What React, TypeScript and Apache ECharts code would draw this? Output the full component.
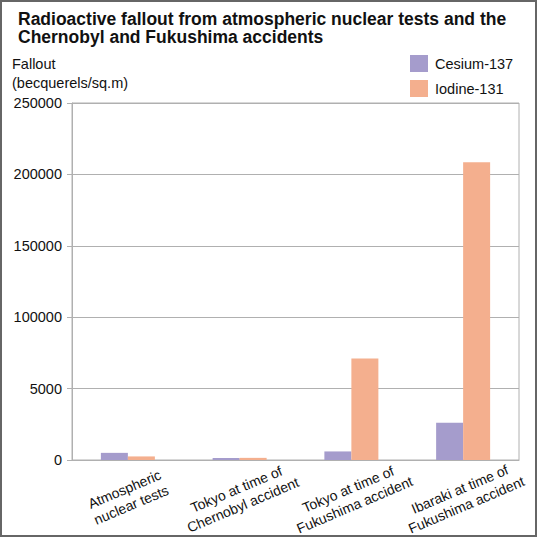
import React, { useEffect, useRef } from "react";
import * as echarts from "echarts";

const categories = [
  "Atmospheric\nnuclear tests",
  "Tokyo at time of\nChernobyl accident",
  "Tokyo at time of\nFukushima accident",
  "Ibaraki at time of\nFukushima accident",
];
const cesium137 = [5000, 1400, 6000, 26000];
const iodine131 = [2500, 1500, 71000, 208500];
const yTickLabels = ["0", "5000", "100000", "150000", "200000", "250000"];

const FONT = "'Liberation Sans', Arial, sans-serif";

export default function App() {
  const ref = useRef<HTMLDivElement>(null);
  useEffect(() => {
    if (!ref.current) return;
    const chart = echarts.init(ref.current, undefined, { renderer: "svg" });
    chart.setOption({
      animation: false,
      backgroundColor: "#ffffff",
      textStyle: { fontFamily: FONT },
      title: {
        text: "Radioactive fallout from atmospheric nuclear tests and the\nChernobyl and Fukushima accidents",
        left: 18,
        top: 10,
        padding: 0,
        textStyle: {
          fontFamily: FONT,
          fontSize: 17.5,
          fontWeight: "bold",
          color: "#111",
          lineHeight: 18,
        },
      },
      legend: {
        orient: "vertical",
        left: 410,
        top: 55,
        padding: 0,
        itemWidth: 18,
        itemHeight: 17,
        itemGap: 8,
        icon: "rect",
        textStyle: { fontFamily: FONT, fontSize: 14.5, color: "#111", padding: [0, 0, 0, 2] },
        data: ["Cesium-137", "Iodine-131"],
      },
      grid: {
        left: 72,
        right: 18,
        top: 103,
        bottom: 77,
        show: true,
        borderColor: "#b0b0b0",
        borderWidth: 1,
        containLabel: false,
        outerBoundsMode: "none",
      },
      xAxis: {
        type: "category",
        data: categories,
        axisLine: { lineStyle: { color: "#b0b0b0" } },
        axisTick: { show: false },
        axisLabel: {
          interval: 0,
          rotate: 23,
          align: "center",
          verticalAlign: "middle",
          margin: 37,
          fontFamily: FONT,
          fontSize: 14,
          lineHeight: 17,
          color: "#111",
        },
      },
      yAxis: {
        type: "value",
        min: 0,
        max: 250000,
        interval: 50000,
        name: "Fallout\n(becquerels/sq.m)",
        nameLocation: "end",
        nameGap: 11,
        nameTextStyle: {
          fontFamily: FONT,
          fontSize: 14.5,
          color: "#111",
          align: "left",
          verticalAlign: "bottom",
          lineHeight: 19,
          padding: [0, 0, 0, -60],
        },
        axisLine: { show: true, lineStyle: { color: "#b0b0b0" } },
        axisTick: { show: true, length: 5, lineStyle: { color: "#b0b0b0" } },
        splitLine: { show: true, lineStyle: { color: "#b0b0b0" } },
        axisLabel: {
          margin: 10,
          fontFamily: FONT,
          fontSize: 14.5,
          color: "#111",
          formatter: (_v: number, i: number) => yTickLabels[i],
        },
      },
      series: [
        {
          name: "Cesium-137",
          type: "bar",
          data: cesium137,
          barWidth: 27,
          barGap: "0%",
          itemStyle: { color: "#a59ccc" },
        },
        {
          name: "Iodine-131",
          type: "bar",
          data: iodine131,
          barWidth: 27,
          barGap: "0%",
          itemStyle: { color: "#f4af8e" },
        },
      ],
    });
    return () => chart.dispose();
  }, []);
  return (
    <div style={{ position: "fixed", left: 0, top: 0, width: 537, height: 537 }}>
      <div ref={ref} style={{ position: "absolute", left: 0, top: 0, width: 537, height: 537 }} />
      <div
        style={{
          position: "absolute",
          left: 0,
          top: 0,
          width: 537,
          height: 537,
          boxSizing: "border-box",
          border: "2px solid #666",
          pointerEvents: "none",
        }}
      />
    </div>
  );
}
